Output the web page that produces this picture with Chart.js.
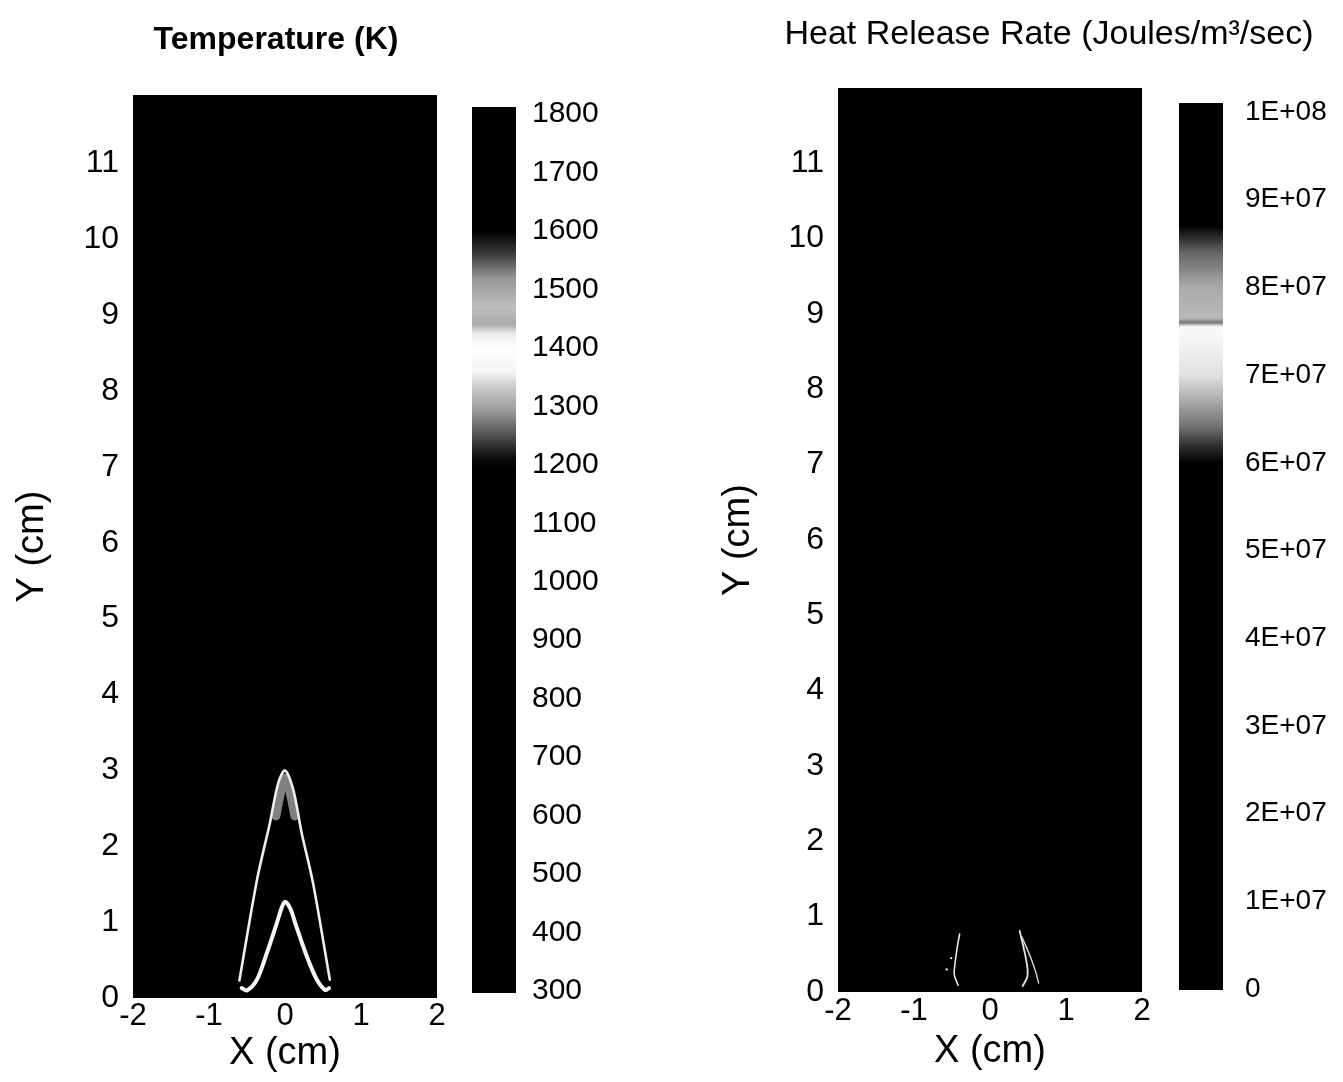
<!DOCTYPE html>
<html>
<head>
<meta charset="utf-8">
<script src="https://cdn.jsdelivr.net/npm/chart.js@4.4.0/dist/chart.umd.min.js"></script>
<style>
html, body { margin: 0; padding: 0; background: #ffffff; }
#wrap { position: relative; width: 1343px; height: 1082px; overflow: hidden; background: #ffffff; }
canvas { position: absolute; top: 0; }
</style>
</head>
<body>
<div id="wrap">
  <canvas id="tPlot" width="470" height="1082" style="left:0px"></canvas>
  <canvas id="hPlot" width="663" height="1082" style="left:680px"></canvas>
  <canvas id="tBar" width="200" height="1082" style="left:460px"></canvas>
  <canvas id="hBar" width="183" height="1082" style="left:1160px"></canvas>
</div>
<script>
// ---------------- data ----------------
const xTickValues = [-2, -1, 0, 1, 2];
const yTickValues = [0, 1, 2, 3, 4, 5, 6, 7, 8, 9, 10, 11];

// Temperature panel: flame-front traces (cm)
const outerFlameX = [-0.60, -0.37, -0.20, -0.09, 0.00, 0.11, 0.22, 0.37, 0.59];
const outerFlameY = [0.23, 1.55, 2.30, 2.83, 3.00, 2.74, 2.17, 1.51, 0.24];
const flameTipX = [-0.12, -0.05, 0.00, 0.06, 0.13];
const flameTipY = [2.40, 2.75, 2.90, 2.74, 2.40];
const innerFlameX = [-0.57, -0.50, -0.37, -0.24, -0.11, -0.04, 0.00, 0.07, 0.15, 0.29, 0.42, 0.53, 0.58];
const innerFlameY = [0.13, 0.10, 0.24, 0.59, 0.98, 1.20, 1.27, 1.18, 0.94, 0.54, 0.24, 0.105, 0.13];

// Heat release panel: thin reaction-zone traces (cm)
const hrrLeftX = [-0.40, -0.43, -0.46, -0.47, -0.42];
const hrrLeftY = [0.77, 0.60, 0.38, 0.23, 0.09];
const hrrRightInnerX = [0.39, 0.44, 0.49, 0.49, 0.43];
const hrrRightInnerY = [0.81, 0.60, 0.34, 0.20, 0.08];
const hrrRightOuterX = [0.42, 0.53, 0.60, 0.64];
const hrrRightOuterY = [0.73, 0.47, 0.27, 0.12];
const hrrDotsX = [-0.51, -0.57];
const hrrDotsY = [0.45, 0.30];

// Colour bars
const tempBarTicks = [300, 400, 500, 600, 700, 800, 900, 1000, 1100, 1200, 1300, 1400, 1500, 1600, 1700, 1800];
const tempBarLabels = ['300', '400', '500', '600', '700', '800', '900', '1000', '1100', '1200', '1300', '1400', '1500', '1600', '1700', '1800'];
const tempShadeLevels = [1190, 1210, 1250, 1290, 1330, 1360, 1400, 1425, 1440, 1470, 1520, 1560, 1600];
const tempShadeGray = [0, 10, 80, 150, 200, 245, 255, 235, 170, 190, 150, 60, 0];

const hrrBarTicks = [0, 1e7, 2e7, 3e7, 4e7, 5e7, 6e7, 7e7, 8e7, 9e7, 1e8];
const hrrBarLabels = ['0', '1E+07', '2E+07', '3E+07', '4E+07', '5E+07', '6E+07', '7E+07', '8E+07', '9E+07', '1E+08'];
const hrrShadeLevels = [6.0e7, 6.2e7, 6.4e7, 6.7e7, 7.0e7, 7.4e7, 7.55e7, 7.6e7, 7.65e7, 8.0e7, 8.4e7, 8.7e7];
const hrrShadeGray = [0, 50, 110, 170, 225, 245, 250, 120, 185, 170, 100, 0];

// ---------------- helpers ----------------
const FONT = "'Liberation Sans', Arial, Helvetica, sans-serif";
Chart.defaults.font.family = FONT;
Chart.defaults.color = '#000';

const pts = (xs, ys) => xs.map((x, i) => ({ x: x, y: ys[i] }));

function titlePlugin(id, text, x, y, font) {
  return {
    id: id,
    afterDraw(chart) {
      const c = chart.ctx;
      c.save();
      c.font = font;
      c.fillStyle = '#000';
      c.textAlign = 'center';
      c.textBaseline = 'alphabetic';
      c.fillText(text, x, y);
      c.restore();
    }
  };
}

const blackArea = {
  id: 'blackArea',
  beforeDatasetsDraw(chart) {
    const a = chart.chartArea, c = chart.ctx;
    c.save();
    c.fillStyle = '#000';
    c.fillRect(a.left, a.top, a.right - a.left, a.bottom - a.top);
    c.restore();
  }
};

function colorbarPlugin(levels, grays) {
  return {
    id: 'colorbar',
    beforeDatasetsDraw(chart) {
      const a = chart.chartArea, c = chart.ctx, ys = chart.scales.y;
      const h = a.bottom - a.top;
      const g = c.createLinearGradient(0, a.bottom, 0, a.top);
      g.addColorStop(0, 'rgb(0,0,0)');
      levels.forEach((v, i) => {
        let off = (a.bottom - ys.getPixelForValue(v)) / h;
        off = Math.max(0, Math.min(1, off));
        const k = grays[i];
        g.addColorStop(off, 'rgb(' + k + ',' + k + ',' + k + ')');
      });
      g.addColorStop(1, 'rgb(0,0,0)');
      c.save();
      c.fillStyle = g;
      c.fillRect(a.left, a.top, a.right - a.left, h);
      c.restore();
    }
  };
}

function lineDs(xs, ys, color, width, extra) {
  return Object.assign({
    data: pts(xs, ys),
    showLine: true,
    borderColor: color,
    borderWidth: width,
    pointRadius: 0,
    tension: 0.3,
    borderJoinStyle: 'round',
    borderCapStyle: 'round'
  }, extra || {});
}

function plotScales(ymax, yWidth, yTitlePad, xHeight, xTickPad, xTitlePad) {
  return {
    x: {
      type: 'linear', min: -2, max: 2,
      afterBuildTicks: s => { s.ticks = xTickValues.map(v => ({ value: v })); },
      afterFit: s => { s.height = xHeight; },
      grid: { display: false, drawTicks: false },
      border: { display: false },
      ticks: { font: { size: 31 }, color: '#000', padding: xTickPad, autoSkip: false, maxRotation: 0 },
      title: { display: true, text: 'X (cm)', font: { size: 38 }, color: '#000', padding: { top: 0, bottom: xTitlePad } }
    },
    y: {
      type: 'linear', min: 0, max: ymax,
      afterBuildTicks: s => { s.ticks = yTickValues.map(v => ({ value: v })); },
      afterFit: s => { s.width = yWidth; },
      grid: { display: false, drawTicks: false },
      border: { display: false },
      ticks: { font: { size: 32 }, color: '#000', padding: 14, autoSkip: false },
      title: { display: true, text: 'Y (cm)', font: { size: 38 }, color: '#000', padding: { top: yTitlePad, bottom: 0 } }
    }
  };
}

const baseOpts = {
  responsive: false,
  animation: false,
  devicePixelRatio: 1,
  events: []
};

// ---------------- Temperature plot ----------------
new Chart(document.getElementById('tPlot'), {
  type: 'scatter',
  data: {
    datasets: [
      lineDs(flameTipX, flameTipY, 'rgba(235,235,235,0.55)', 9),
      lineDs(outerFlameX, outerFlameY, '#eeeeee', 2.6),
      lineDs(innerFlameX, innerFlameY, '#f5f5f5', 4)
    ]
  },
  options: Object.assign({}, baseOpts, {
    layout: { padding: { top: 95, right: 33, bottom: 0, left: 0 } },
    plugins: { legend: { display: false }, tooltip: { enabled: false } },
    scales: plotScales(11.9, 133, 10, 84, 0, 6)
  }),
  plugins: [blackArea, titlePlugin('tTitle', 'Temperature (K)', 276, 49, 'bold 32px ' + FONT)]
});

// ---------------- Heat release plot ----------------
new Chart(document.getElementById('hPlot'), {
  type: 'scatter',
  data: {
    datasets: [
      lineDs(hrrLeftX, hrrLeftY, '#e6e6e6', 1.6),
      lineDs(hrrRightInnerX, hrrRightInnerY, '#e6e6e6', 1.8),
      lineDs(hrrRightOuterX, hrrRightOuterY, '#d8d8d8', 1.4),
      { data: pts(hrrDotsX, hrrDotsY), showLine: false, pointRadius: 1.2, pointBorderWidth: 0, backgroundColor: '#dddddd' }
    ]
  },
  options: Object.assign({}, baseOpts, {
    layout: { padding: { top: 88, right: 201, bottom: 0, left: 0 } },
    plugins: { legend: { display: false }, tooltip: { enabled: false } },
    scales: plotScales(12.0, 158, 36, 90, 1, 8)
  }),
  plugins: [blackArea, titlePlugin('hTitle', 'Heat Release Rate (Joules/m³/sec)', 369, 44, '34px ' + FONT)]
});

// ---------------- Colour bars ----------------
function barChart(id, pad, axisWidth, ymin, ymax, ticks, labels, tickPad, fontSize, levels, grays) {
  return new Chart(document.getElementById(id), {
    type: 'scatter',
    data: { datasets: [] },
    options: Object.assign({}, baseOpts, {
      layout: { padding: pad },
      plugins: { legend: { display: false }, tooltip: { enabled: false } },
      scales: {
        x: { type: 'linear', display: false, min: 0, max: 1 },
        y: {
          type: 'linear', position: 'right', min: ymin, max: ymax,
          afterBuildTicks: s => { s.ticks = ticks.map(v => ({ value: v })); },
          afterFit: s => { s.width = axisWidth; },
          grid: { display: false, drawTicks: false },
          border: { display: false },
          ticks: {
            font: { size: fontSize }, color: '#000', padding: tickPad, autoSkip: false,
            callback: (v) => { const i = ticks.indexOf(v); return i >= 0 ? labels[i] : ''; }
          }
        }
      }
    }),
    plugins: [colorbarPlugin(levels, grays)]
  });
}

barChart('tBar', { top: 107, bottom: 89, left: 12, right: 0 }, 144, 296.6, 1812,
  tempBarTicks, tempBarLabels, 16, 30, tempShadeLevels, tempShadeGray);
barChart('hBar', { top: 103, bottom: 92, left: 19, right: 0 }, 120, -1.1e5, 1.0103e8,
  hrrBarTicks, hrrBarLabels, 22, 28, hrrShadeLevels, hrrShadeGray);
</script>
</body>
</html>
